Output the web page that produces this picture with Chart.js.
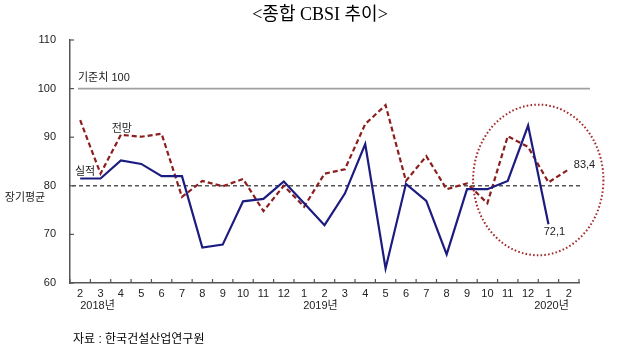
<!DOCTYPE html>
<html><head><meta charset="utf-8">
<script src="https://cdn.jsdelivr.net/npm/chart.js@4/dist/chart.umd.min.js"></script>
<style>html,body{margin:0;padding:0;background:#fff;}canvas{display:block;}</style>
</head><body>
<canvas id="c" width="638" height="357"></canvas>
<script>
const months = ['2','3','4','5','6','7','8','9','10','11','12','1','2','3','4','5','6','7','8','9','10','11','12','1','2'];
const yearLabels = [{text:'2018년', at:0.85}, {text:'2019년', at:11.8}, {text:'2020년', at:23.15}];
const actual = [81.5,81.5,85.2,84.5,82.0,82.0,67.3,67.9,76.8,77.3,80.9,76.4,71.9,78.4,88.6,63.0,80.4,76.9,65.9,79.3,79.3,81.0,92.4,72.1,null];
const outlook = [93.5,82.5,90.5,90.1,90.7,77.7,81.0,79.9,81.4,74.8,80.0,75.7,82.5,83.4,92.7,96.6,81.0,86.1,79.3,80.5,76.4,90.2,88.0,80.7,83.4];
const yTicks = [60,70,80,90,100,110];
const baseline = 100, longAvg = 80;

const FONT = '"Liberation Sans", "Noto Sans CJK KR", sans-serif';

const deco = {
  id:'deco',
  beforeDatasetsDraw(chart){
    const {ctx, chartArea:a, scales:{x,y}} = chart;
    ctx.save();
    ctx.strokeStyle='#a0a0a0'; ctx.lineWidth=1.6;
    let yy=y.getPixelForValue(baseline);
    ctx.beginPath(); ctx.moveTo(a.left+8,yy); ctx.lineTo(a.right+11,yy); ctx.stroke();
    ctx.strokeStyle='#555'; ctx.lineWidth=1.5; ctx.setLineDash([4,3]);
    yy=y.getPixelForValue(longAvg);
    ctx.beginPath(); ctx.moveTo(a.left+2,yy); ctx.lineTo(a.right+3,yy); ctx.stroke();
    ctx.setLineDash([]);
    ctx.strokeStyle='#555'; ctx.lineWidth=1.2;
    yTicks.forEach(v=>{const p=y.getPixelForValue(v); ctx.beginPath(); ctx.moveTo(a.left,p); ctx.lineTo(a.left+4,p); ctx.stroke();});
    for(let i=0;i<=months.length;i++){
      const p = x.getPixelForValue(i-0.5);
      ctx.beginPath(); ctx.moveTo(p,a.bottom); ctx.lineTo(p,a.bottom-4); ctx.stroke();
    }
    ctx.restore();
  },
  afterDraw(chart){
    const {ctx, chartArea:a, scales:{x,y}} = chart;
    ctx.save();
    ctx.fillStyle='#000'; ctx.textAlign='center'; ctx.textBaseline='middle';
    ctx.font='18px "Liberation Serif", "Noto Sans CJK KR", serif';
    ctx.fillText('<종합 CBSI 추이>', 320, 15);
    ctx.font='11px '+FONT; ctx.fillStyle='#222'; ctx.textAlign='left';
    ctx.fillText('기준치 100', a.left+8, y.getPixelForValue(baseline)-11);
    ctx.fillText('전망', x.getPixelForValue(1.55), y.getPixelForValue(91.7));
    ctx.fillText('실적', a.left+5, y.getPixelForValue(82.9));
    ctx.textAlign='center';
    ctx.fillText('장기평균', 25, y.getPixelForValue(77.4));
    ctx.textAlign='left';
    ctx.fillText('83,4', x.getPixelForValue(24)+5, y.getPixelForValue(83.4)-4);
    ctx.textAlign='center';
    ctx.fillText('72,1', x.getPixelForValue(23)+6, y.getPixelForValue(72.1)+8);
    yearLabels.forEach(l=>{ctx.fillText(l.text, x.getPixelForValue(l.at), a.bottom+23);});
    ctx.textAlign='left'; ctx.font='12px '+FONT; ctx.fillStyle='#000';
    ctx.fillText('자료 : 한국건설산업연구원', 73, 340);
    const cx=x.getPixelForValue(22.5), cy=y.getPixelForValue(81.2);
    const rx=(x.getPixelForValue(1)-x.getPixelForValue(0))*3.2;
    const ry=y.getPixelForValue(60)-y.getPixelForValue(75.5);
    ctx.strokeStyle='#a52a2a'; ctx.lineWidth=2; ctx.setLineDash([1.6,2.2]);
    ctx.beginPath(); ctx.ellipse(cx,cy,rx,ry,0,0,Math.PI*2); ctx.stroke();
    ctx.restore();
  }
};

new Chart(document.getElementById('c'), {
  type:'line',
  data:{labels:months, datasets:[
    {label:'실적', data:actual, borderColor:'#1c1c80', borderWidth:2.2, pointRadius:0, tension:0, fill:false},
    {label:'전망', data:outlook, borderColor:'#8b1f1f', borderWidth:2.2, borderDash:[5,3], pointRadius:0, tension:0, fill:false}
  ]},
  options:{
    responsive:false, animation:false,
    layout:{padding:{left:0, right:59, top:40, bottom:34}},
    plugins:{legend:{display:false}, tooltip:{enabled:false}, title:{display:false}},
    scales:{
      x:{offset:true, grid:{display:false, drawTicks:false}, border:{display:true, color:'#555', width:1.5},
        ticks:{color:'#222', font:{size:11, family:FONT}, padding:4, maxRotation:0, autoSkip:false},
        afterFit(s){s.height=40;}},
      y:{min:60, max:110, grid:{display:false, drawTicks:false}, border:{display:true, color:'#555', width:1.5},
        afterBuildTicks(s){s.ticks = yTicks.map(v=>({value:v}));},
        ticks:{color:'#222', font:{size:11, family:FONT}, padding:14},
        afterFit(s){s.width=70;}}
    }
  },
  plugins:[deco]
});
</script>
</body></html>
